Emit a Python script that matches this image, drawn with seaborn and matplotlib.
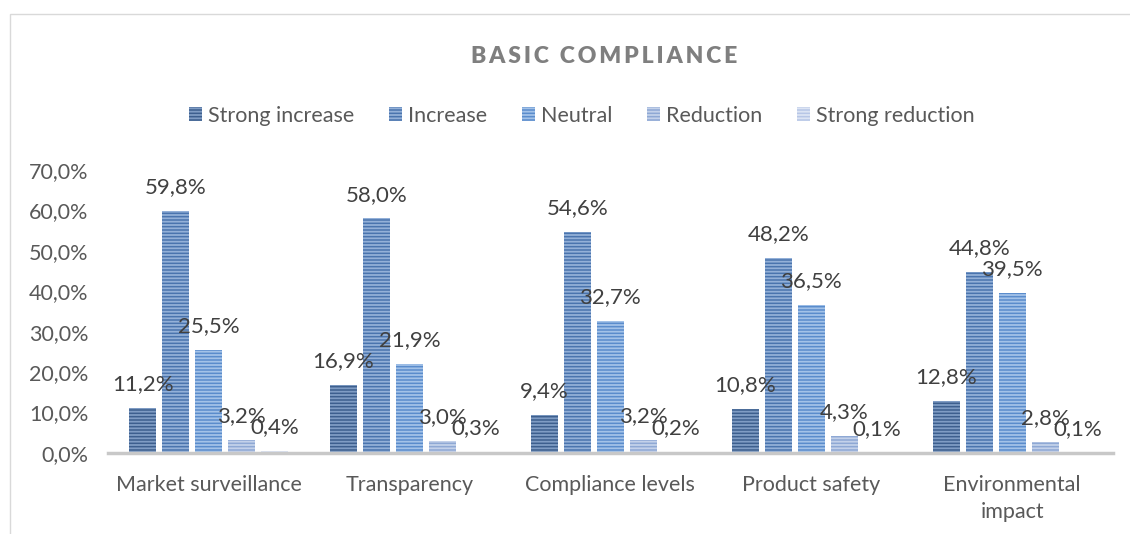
import numpy as np
import pandas as pd
import seaborn as sns
import matplotlib.pyplot as plt
from matplotlib.patches import Rectangle, Patch

categories = ["Market surveillance", "Transparency", "Compliance levels", "Product safety", "Environmental\nimpact"]
levels = ["Strong increase", "Increase", "Neutral", "Reduction", "Strong reduction"]
strong_increase = [11.2, 16.9, 9.4, 10.8, 12.8]
increase = [59.8, 58.0, 54.6, 48.2, 44.8]
neutral = [25.5, 21.9, 32.7, 36.5, 39.5]
reduction = [3.2, 3.0, 3.2, 4.3, 2.8]
strong_reduction = [0.4, 0.3, 0.2, 0.1, 0.1]

colors = ["#3d5f8e", "#4a74ae", "#5a8ccc", "#8ea8d4", "#b7c6e6"]
stripes = ["#7f9cc4", "#93b0d8", "#a3c2e8", "#c3d1ea", "#dce4f4"]

series = [strong_increase, increase, neutral, reduction, strong_reduction]
df = pd.DataFrame({
    "category": categories * 5,
    "level": [lv for lv in levels for _ in categories],
    "value": [v for s in series for v in s],
})

sns.set_style("white")
plt.rcParams['font.family'] = ['Lato', 'DejaVu Sans']
plt.rcParams['hatch.linewidth'] = 1.3

fig = plt.figure(figsize=(11.3, 5.34), dpi=100)
ax = fig.add_axes([0.0956, 0.1517, 0.889, 0.53])

sns.barplot(data=df, x="category", y="value", hue="level", hue_order=levels,
            order=categories, palette=colors, width=0.82, ax=ax, legend=False)

for i, cont in enumerate(ax.containers):
    for bar in cont:
        bar.set_facecolor(colors[i])
        bar.set_edgecolor(stripes[i])
        bar.set_hatch("-----")
        bar.set_linewidth(0)
        bar.set_width(bar.get_width() * 0.82)
        bar.set_x(bar.get_x() + bar.get_width() * 0.11)
    labels = [f"{v:.1f}%".replace(".", ",") for v in series[i]]
    ax.bar_label(cont, labels=labels, padding=10, fontsize=16, color="#404040")

ax.set_ylim(0, 70)
ax.set_xlim(-0.5, 4.5)
ax.set_yticks(np.arange(0, 71, 10))
ax.set_yticklabels([f"{t:.1f}%".replace(".", ",") for t in np.arange(0, 71, 10)])
ax.tick_params(axis="y", labelsize=15.5, labelcolor="#595959", length=0, pad=14)
ax.tick_params(axis="x", labelsize=15.5, labelcolor="#595959", length=0, pad=16)
for lab in ax.get_xticklabels():
    lab.set_linespacing(1.45)
ax.set_xlabel("")
ax.set_ylabel("")
for s in ["top", "right", "left"]:
    ax.spines[s].set_visible(False)
ax.spines["bottom"].set_color("#c8c8c8")
ax.spines["bottom"].set_linewidth(2.5)

handles = [Patch(facecolor=colors[i], edgecolor=stripes[i], hatch="-----", linewidth=0) for i in range(5)]
fig.legend(handles, levels, loc="center", bbox_to_anchor=(0.515, 0.783), ncol=5, frameon=False,
           fontsize=15.5, handlelength=0.6, handleheight=0.6, handletextpad=0.3, columnspacing=1.6,
           labelcolor="#595959")

fig.text(0.535, 0.895, "\u2009".join("BASIC COMPLIANCE"), ha="center", va="center", fontsize=16.5,
         fontweight="heavy", color="#7f7f7f")

fig.patches.append(Rectangle((10 / 1130, -0.1), 1.2, (534 - 14) / 534 + 0.1,
                             transform=fig.transFigure, fill=False, edgecolor="#d9d9d9", linewidth=1))

fig.savefig("out.png", dpi=100)
